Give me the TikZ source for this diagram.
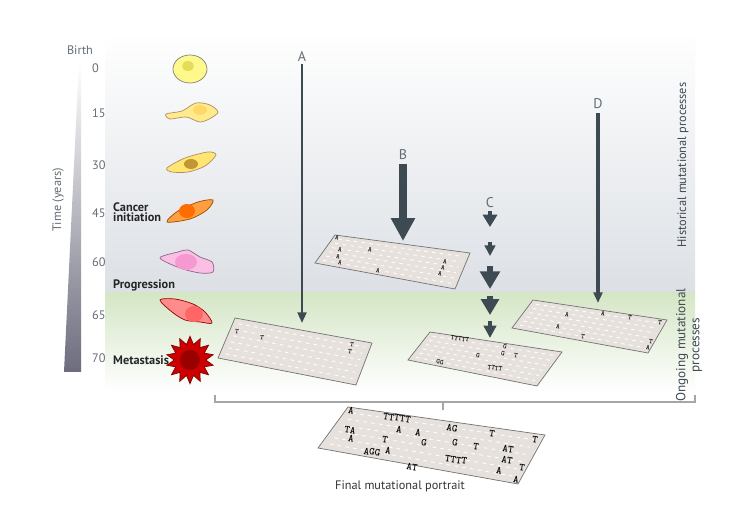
\documentclass[tikz,border=0pt]{standalone}
\usepackage{fontspec}
\setmainfont{PT Sans}
\usetikzlibrary{calc,arrows.meta,shapes.geometric}
\definecolor{arr}{HTML}{3D4A52}
\definecolor{plate}{HTML}{E6E1DC}
\definecolor{grn}{HTML}{D5E6C6}
\definecolor{gry}{HTML}{DCE0E5}
\tikzset{
  lbl/.style={font=\fontsize{7}{8}\selectfont, text=arr!80},
  cellfont/.style={font=\bfseries\fontsize{7}{7.5}\selectfont, align=left, anchor=west, text=black!85},
  mut/.style={font=\ttfamily\bfseries\fontsize{4}{4}\selectfont, rotate=-8, inner sep=0pt},
  mutb/.style={font=\ttfamily\bfseries\fontsize{6}{6}\selectfont, rotate=-8, inner sep=0pt},
  platebox/.style={fill=plate, draw=black!55, line width=0.4pt},
  rows/.style={white, dashed, dash pattern=on 2pt off 2.5pt, line width=0.5pt},
  thinarr/.style={arr, line width=1.3pt, -{Triangle[width=5pt,length=6pt]}},
  fatarr/.style={arr, line width=5pt, -{Triangle[width=13pt,length=13pt]}},
}
\newcommand{\myplate}[5]{% name TL TR BR BL
  \coordinate (#1TL) at #2; \coordinate (#1TR) at #3;
  \coordinate (#1BR) at #4; \coordinate (#1BL) at #5;
  \draw[platebox] (#1TL) -- (#1TR) -- (#1BR) -- (#1BL) -- cycle;
  \foreach \v in {0.12,0.27,0.42,0.57,0.72,0.87}
    \draw[rows] ($($(#1TL)!\v!(#1BL)$)!0.04!($(#1TR)!\v!(#1BR)$)$) -- ($($(#1TL)!\v!(#1BL)$)!0.96!($(#1TR)!\v!(#1BR)$)$);
}
\begin{document}
\begin{tikzpicture}[x=0.02cm,y=-0.02cm]
\useasboundingbox (0,0) rectangle (752,506);
\fill[white] (0,0) rectangle (752,506);
% backgrounds
\shade[top color=white!97!gry, bottom color=gry] (105,38) rectangle (695,293);
\shade[top color=grn, bottom color=white] (105,293) rectangle (695,392);
% time bar
\shade[top color=white, bottom color=black!55!blue!15!gray] (79,62) -- (81,62) -- (81,372) -- (64,372) -- cycle;
\node[lbl] (birth) at (80,50) {Birth};
\foreach \t/\yy in {0/68,15/113,30/165,45/213,60/262,65/315,70/358}
  \node[lbl, anchor=west] (t\t) at (86,\yy) {\t};
\node[lbl, rotate=90] (timey) at (58,200) {Time (years)};
% cells
\draw[draw=black!50, fill=yellow!45!white] (190,69) ellipse [x radius=17, y radius=14];
\fill[yellow!60!olive!60] (188,66) ellipse [x radius=6, y radius=5];
\draw[draw=orange!50!black!60, fill=orange!35!yellow!45] plot[smooth cycle] coordinates {(166,114) (182,111) (196,103) (210,105) (218,112) (211,118) (200,122) (186,117) (170,119)};
\fill[orange!50!yellow!60] (200,110) ellipse [x radius=7, y radius=5];
\draw[draw=orange!50!black!60, fill=orange!35!yellow!55] plot[smooth cycle] coordinates {(167,168) (185,158) (208,152) (216,155) (205,166) (188,172) (172,172)};
\fill[orange!60!yellow!70!black!80] (191,164) ellipse [x radius=7, y radius=5];
\draw[draw=orange!60!black, fill=orange!75] plot[smooth cycle] coordinates {(167,222) (178,211) (198,202) (213,200) (207,210) (190,219)};
\fill[orange!85!red] (187,211) ellipse [x radius=8, y radius=7];
\draw[draw=violet!50!black!60, fill=magenta!25!white] plot[smooth cycle] coordinates {(160,258) (178,252) (188,250) (200,257) (212,262) (213,272) (200,273) (180,268)};
\fill[magenta!40!white] (186,262) ellipse [x radius=11, y radius=8];
\draw[draw=red!60!black, fill=red!45!white] plot[smooth cycle] coordinates {(160,300) (175,299) (193,304) (205,312) (212,323) (200,322) (185,320) (172,312)};
\fill[red!60!white] (194,314) ellipse [x radius=9, y radius=8];
\node[star, star points=14, star point ratio=1.5, fill=red!80!black, draw=red!50!black, minimum size=27, inner sep=0pt] (meta) at (190,360) {};
\fill[red!60!black] (190,360) circle (10);
\node[cellfont] (ci) at (107,212) {Cancer\\[-2pt]initiation};
\node[cellfont] (prog) at (107,285) {Progression};
\node[cellfont] (metal) at (107,360) {Metastasis};
% plates
\myplate{B}{(335,235)}{(470,253)}{(455,289)}{(315,263)}
\myplate{A}{(235,318)}{(372,343)}{(356,385)}{(218,358)}
\myplate{C}{(430,332)}{(562,352)}{(537,386)}{(408,360)}
\myplate{D}{(533,300)}{(667,320)}{(648,353)}{(512,328)}
\myplate{F}{(348,407)}{(545,435)}{(518,484)}{(318,448)}
\foreach \s/\px/\py in {A/337/238,A/340/250,A/338/257,A/340/263,A/370/250,A/378/271,A/445/262,A/443/268,A/440/274,
  T/237/332,T/262/338,T/352/345,T/350/352,
  TTTTT/460/339,G/505/347,G/503/354,T/516/356,G/478/356,GG/440/362,TTTT/495/368,
  A/567/315,A/603/314,T/630/318,T/660/323,A/558/327,T/583/337,T/651/342,A/648/348}
  \node[mut] at (\px,\py) {\s};
\foreach \s/\px/\py in {A/351/411,TTTTT/397/418,A/399/430,A/418/433,AG/452/428,T/492/434,T/535/440,TA/350/430,T/385/440,G/424/443,G/455/443,T/476/447,A/351/439,A/388/451,AT/508/449,AGG/372/452,TTTT/456/460,AT/507/460,AT/412/467,A/499/471,T/522/468,A/516/480}
  \node[mutb] at (\px,\py) {\s};
% arrows
\node[lbl, font=\fontsize{8}{8}\selectfont] (la) at (302,57) {A};
\node[lbl, font=\fontsize{8}{8}\selectfont] (lb) at (403,155) {B};
\node[lbl, font=\fontsize{8}{8}\selectfont] (lc) at (490,203) {C};
\node[lbl, font=\fontsize{8}{8}\selectfont] (ld) at (598,104) {D};
\coordinate (a1) at (302,64); \coordinate (a2) at (302,323);
\draw[thinarr] (a1) -- (a2);
\coordinate (d1) at (598,113); \coordinate (d2) at (598,303);
\draw[thinarr, line width=1.8pt] (d1) -- (d2);
\coordinate (b1) at (403,164); \coordinate (b2) at (403,241);
\draw[fatarr] (b1) -- (b2);
\coordinate (c1) at (490,211); \coordinate (c2) at (490,227);
\coordinate (c3) at (490,242); \coordinate (c4) at (490,256);
\coordinate (c5) at (490,266); \coordinate (c6) at (490,289);
\coordinate (c7) at (490,296); \coordinate (c8) at (490,315);
\coordinate (c9) at (490,321); \coordinate (c10) at (490,338);
\draw[arr, line width=2.5pt, -{Triangle[width=8pt,length=7pt]}] (c1) -- (c2);
\draw[arr, line width=2pt, -{Triangle[width=6pt,length=6pt]}] (c3) -- (c4);
\draw[arr, line width=3.5pt, -{Triangle[width=11pt,length=10pt]}] (c5) -- (c6);
\draw[arr, line width=3pt, -{Triangle[width=10pt,length=9pt]}] (c7) -- (c8);
\draw[arr, line width=2.5pt, -{Triangle[width=7pt,length=7pt]}] (c9) -- (c10);
% bracket
\coordinate (k1) at (215,395); \coordinate (k2) at (215,402);
\coordinate (k3) at (695,402); \coordinate (k4) at (695,395);
\coordinate (km) at (443,402); \coordinate (kd) at (443,410);
\draw[black!35, line width=0.6pt] (k1) -- (k2) -- (k3) -- (k4);
\draw[black!35, line width=0.6pt] (km) -- (kd);
% labels
\node[lbl, rotate=90, text=arr] (hist) at (683,165) {Historical mutational processes};
\node[lbl, rotate=90, align=center, text=arr, font=\fontsize{7.5}{8}\selectfont] (ong) at (689,345) {Ongoing mutational\\processes};
\node[lbl, text=black!80] (fin) at (400,486) {Final mutational portrait};
\end{tikzpicture}
\end{document}
